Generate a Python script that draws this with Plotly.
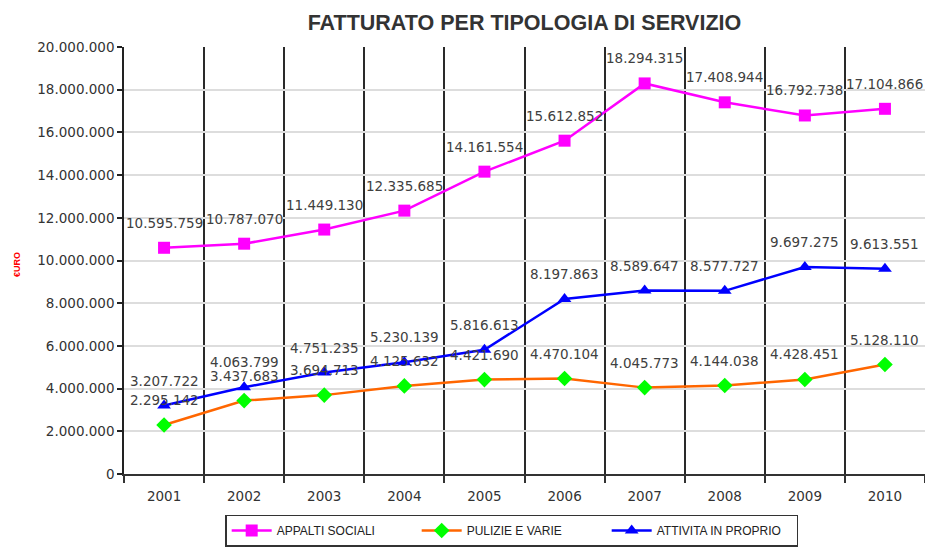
import plotly.graph_objects as go

# Annual revenue by service type (euro)
anni = ["2001", "2002", "2003", "2004", "2005", "2006", "2007", "2008", "2009", "2010"]
appalti_sociali = [10595759, 10787070, 11449130, 12335685, 14161554,
                   15612852, 18294315, 17408944, 16792738, 17104866]
pulizie_e_varie = [2295142, 3437683, 3694713, 4125632, 4421690,
                   4470104, 4045773, 4144038, 4428451, 5128110]
attivita_in_proprio = [3207722, 4063799, 4751235, 5230139, 5816613,
                       8197863, 8589647, 8577727, 9697275, 9613551]
y_ticks = list(range(0, 20000001, 2000000))


def euro(v):
    return f"{v:,}".replace(",", ".")


serie = [
    ("APPALTI SOCIALI", appalti_sociali, "#FF00FF", "#FF00FF", "square", 12),
    ("PULIZIE E VARIE", pulizie_e_varie, "#FF6600", "#00FF00", "diamond", 12),
    ("ATTIVITA IN PROPRIO", attivita_in_proprio, "#0000FF", "#0000FF", "triangle-up", 12),
]

LABEL_FONT = dict(family="DejaVu Sans", size=13.5, color="#404040")

fig = go.Figure()
annotations = []
for nome, valori, col_linea, col_marker, simbolo, dim in serie:
    fig.add_trace(go.Scatter(
        x=anni, y=valori, name=nome, mode="lines+markers",
        line=dict(color=col_linea, width=2.5),
        marker=dict(symbol=simbolo, size=dim, color=col_marker,
                    line=dict(width=0)),
    ))
    # value labels above each point (category position given by index)
    for i, v in enumerate(valori):
        annotations.append(dict(
            x=i, y=v, xref="x", yref="y", text=euro(v), showarrow=False,
            yshift=25, font=LABEL_FONT,
        ))

annotations.append(dict(
    xref="paper", yref="paper", x=-0.142, y=0.49, text="<b>€URO</b>",
    textangle=-90, showarrow=False,
    font=dict(family="Liberation Sans", size=9, color="#FF0000"),
))

fig.update_layout(
    width=925, height=550,
    margin=dict(l=124, r=0, t=47, b=76),
    paper_bgcolor="white", plot_bgcolor="white",
    separators=",.",
    title=dict(text="<b>FATTURATO PER TIPOLOGIA DI SERVIZIO</b>",
               x=0.567, xanchor="center", y=0.96, yanchor="middle",
               font=dict(family="Liberation Sans", size=21.5, color="#333333")),
    showlegend=True,
    legend=dict(orientation="h", x=0.484, xanchor="center", y=-0.095, yanchor="top",
                bordercolor="#333333", borderwidth=1.5,
                font=dict(family="Liberation Sans", size=12, color="#222222"),
                itemwidth=40, entrywidth=135, entrywidthmode="pixels"),
    annotations=annotations,
    font=dict(family="DejaVu Sans", size=13.5, color="#333333"),
)

fig.update_xaxes(
    type="category", range=[-0.5, 9.5], tickson="boundaries",
    showgrid=True, gridcolor="#2a2a2a", gridwidth=1.5,
    showline=True, linecolor="#333333", linewidth=2,
    ticks="outside", ticklen=7, tickcolor="#333333", tickwidth=1.5,
    ticklabelstandoff=9,
    tickfont=dict(family="DejaVu Sans", size=13.5, color="#333333"),
)
fig.update_yaxes(
    range=[0, 20000000], tickvals=y_ticks, tickformat=",d",
    showgrid=True, gridcolor="#dddddd", gridwidth=1.5, zeroline=False,
    showline=True, linecolor="#222222", linewidth=1.5,
    ticks="outside", ticklen=5, tickcolor="#222222", tickwidth=1.5,
    tickfont=dict(family="DejaVu Sans", size=13.5, color="#333333"),
)

fig.write_html("out.html")
